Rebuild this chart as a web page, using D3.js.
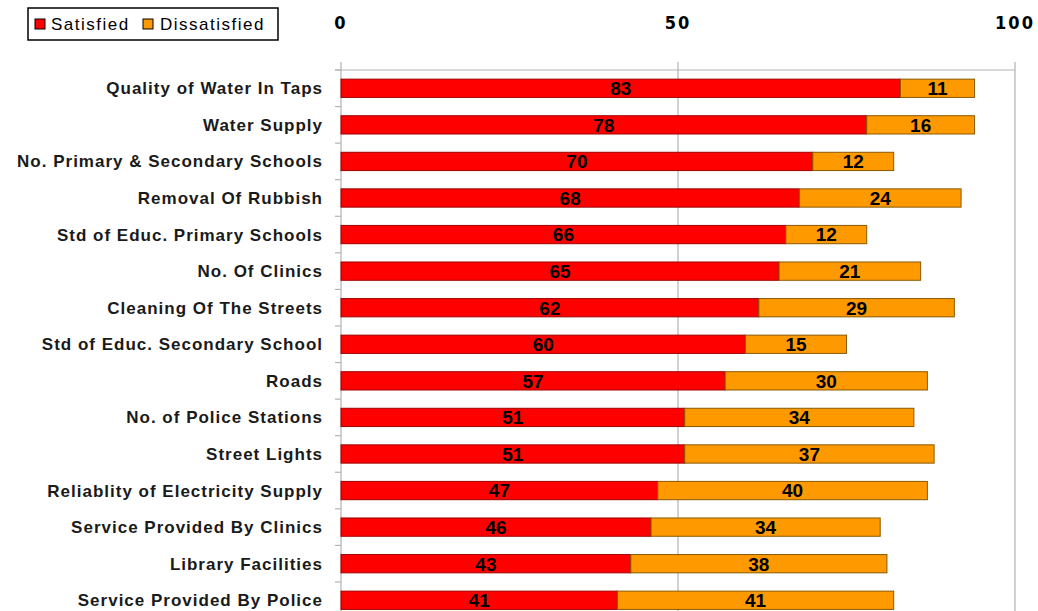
<!DOCTYPE html>
<html>
<head>
<meta charset="utf-8">
<script src="https://cdn.jsdelivr.net/npm/d3@7"></script>
<style>
  body { margin: 0; background: #fff; }
  svg { display: block; }
</style>
</head>
<body>
<div id="chart"></div>
<script>
// services rated, top to bottom
var categories = ["Quality of Water In Taps", "Water Supply", "No. Primary & Secondary Schools",
  "Removal Of Rubbish", "Std of Educ. Primary Schools", "No. Of Clinics",
  "Cleaning Of The Streets", "Std of Educ. Secondary School", "Roads",
  "No. of Police Stations", "Street Lights", "Reliablity of Electricity Supply",
  "Service Provided By Clinics", "Library Facilities", "Service Provided By Police"];
var satisfied    = [83, 78, 70, 68, 66, 65, 62, 60, 57, 51, 51, 47, 46, 43, 41];
var dissatisfied = [11, 16, 12, 24, 12, 21, 29, 15, 30, 34, 37, 40, 34, 38, 41];
var seriesNames = ["Satisfied", "Dissatisfied"];
var xTicks = [0, 50, 100];

var width = 1038, height = 611;
var margin = {top: 70, left: 341, right: 23};
var step = 36.57;

var svg = d3.select("#chart").append("svg")
  .attr("width", width)
  .attr("height", height);

var x = d3.scaleLinear()
  .domain([0, 100])
  .range([margin.left, width - margin.right]);

var y = d3.scaleBand()
  .domain(categories)
  .range([margin.top, margin.top + step * categories.length])
  .paddingInner(0.5)
  .paddingOuter(0.25);

var rows = categories.map(function(c, i) {
  return {name: c, s: satisfied[i], d: dissatisfied[i]};
});

// grid lines
svg.append("g")
  .selectAll("line")
  .data(xTicks.slice(1))
  .enter().append("line")
    .attr("x1", function(d) { return x(d); })
    .attr("x2", function(d) { return x(d); })
    .attr("y1", margin.top - 8)
    .attr("y2", height)
    .style("stroke", "#b3b3b3")
    .style("stroke-width", 1.2);

// top line
svg.append("line")
  .attr("x1", x(0) - 6).attr("x2", x(100))
  .attr("y1", margin.top).attr("y2", margin.top)
  .style("stroke", "#b3b3b3")
  .style("stroke-width", 1.2);

// left axis with ticks between categories
var yAxis = svg.append("g")
  .attr("transform", "translate(" + x(0) + ",0)");
yAxis.append("line")
  .attr("y1", margin.top - 8).attr("y2", height)
  .style("stroke", "#b3b3b3").style("stroke-width", 1.2);
yAxis.selectAll(".tk")
  .data(d3.range(categories.length + 1))
  .enter().append("line")
    .attr("class", "tk")
    .attr("x1", -6).attr("x2", 0)
    .attr("y1", function(i) { return margin.top + i * step; })
    .attr("y2", function(i) { return margin.top + i * step; })
    .style("stroke", "#b3b3b3").style("stroke-width", 1.2);

// top tick labels
svg.append("g")
  .selectAll("text")
  .data(xTicks)
  .enter().append("text")
    .attr("x", function(d) { return x(d); })
    .attr("y", 29)
    .attr("text-anchor", "middle")
    .style("font-family", "DejaVu Sans Condensed, DejaVu Sans")
    .style("font-weight", "bold")
    .style("font-size", "18px")
    .style("letter-spacing", "2px")
    .text(function(d) { return d; });

// category labels
svg.append("g")
  .selectAll("text")
  .data(categories)
  .enter().append("text")
    .attr("x", 323)
    .attr("y", function(d) { return y(d) + y.bandwidth() / 2; })
    .attr("dy", "0.35em")
    .attr("text-anchor", "end")
    .style("font-family", "Liberation Sans, Arial")
    .style("font-weight", "bold")
    .style("font-size", "17px")
    .style("letter-spacing", "1px")
    .style("fill", "#1a1a1a")
    .text(function(d) { return d; });

var bars = svg.append("g").selectAll("g")
  .data(rows)
  .enter().append("g");

// satisfied bars
bars.append("rect")
  .attr("x", x(0))
  .attr("y", function(d) { return y(d.name); })
  .attr("width", function(d) { return x(d.s) - x(0); })
  .attr("height", y.bandwidth())
  .style("fill", "#ff0000")
  .style("stroke", "#a00000")
  .style("stroke-width", 1);

// dissatisfied bars
bars.append("rect")
  .attr("x", function(d) { return x(d.s); })
  .attr("y", function(d) { return y(d.name); })
  .attr("width", function(d) { return x(d.s + d.d) - x(d.s); })
  .attr("height", y.bandwidth())
  .style("fill", "#ff9900")
  .style("stroke", "#8a5a00")
  .style("stroke-width", 1);

// value labels
var labelStyle = function(sel) {
  sel.attr("text-anchor", "middle")
    .attr("dy", "0.36em")
    .style("font-family", "Liberation Sans, Arial")
    .style("font-weight", "bold")
    .style("font-size", "19px")
    .style("fill", "#000");
};
bars.append("text")
  .attr("x", function(d) { return (x(0) + x(d.s)) / 2; })
  .attr("y", function(d) { return y(d.name) + y.bandwidth() / 2; })
  .call(labelStyle)
  .text(function(d) { return d.s; });
bars.append("text")
  .attr("x", function(d) { return (x(d.s) + x(d.s + d.d)) / 2; })
  .attr("y", function(d) { return y(d.name) + y.bandwidth() / 2; })
  .call(labelStyle)
  .text(function(d) { return d.d; });

// legend
var legend = svg.append("g");
legend.append("rect")
  .attr("x", 28).attr("y", 8)
  .attr("width", 250).attr("height", 32)
  .style("fill", "#fff")
  .style("stroke", "#000")
  .style("stroke-width", 1.5);
var legendItems = [
  {name: seriesNames[0], color: "#ff0000", x: 35, tx: 51},
  {name: seriesNames[1], color: "#ff9900", x: 143, tx: 160}
];
legendItems.forEach(function(it) {
  legend.append("rect")
    .attr("x", it.x).attr("y", 19)
    .attr("width", 10).attr("height", 10)
    .style("fill", it.color)
    .style("stroke", "#000").style("stroke-width", 1);
  legend.append("text")
    .attr("x", it.tx).attr("y", 30)
    .style("font-family", "Liberation Sans, Arial")
    .style("font-size", "17px")
    .style("letter-spacing", "1.5px")
    .style("fill", "#000")
    .text(it.name);
});
</script>
</body>
</html>
